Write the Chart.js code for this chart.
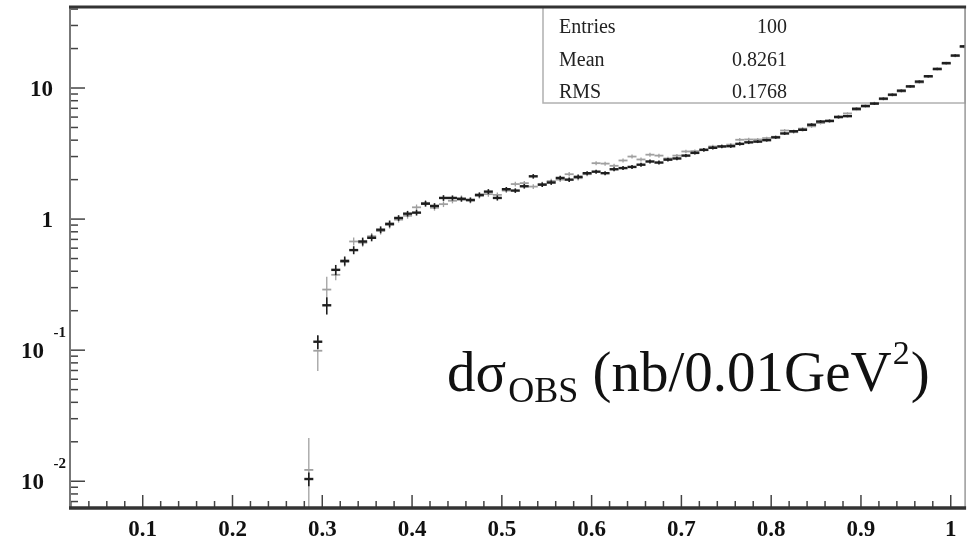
<!DOCTYPE html>
<html>
<head>
<meta charset="utf-8">
<script src="https://cdn.jsdelivr.net/npm/chart.js@4/dist/chart.umd.min.js"></script>
<style>
  body { margin: 0; background: #fff; }
  canvas { display: block; }
</style>
</head>
<body>
<canvas id="histo" width="972" height="546"></canvas>
<script>
// bin centres (0.01 GeV^2 bins)
const binCenters = [0.285, 0.295, 0.305, 0.315, 0.325, 0.335, 0.345, 0.355, 0.365, 0.375,
  0.385, 0.395, 0.405, 0.415, 0.425, 0.435, 0.445, 0.455, 0.465, 0.475,
  0.485, 0.495, 0.505, 0.515, 0.525, 0.535, 0.545, 0.555, 0.565, 0.575,
  0.585, 0.595, 0.605, 0.615, 0.625, 0.635, 0.645, 0.655, 0.665, 0.675,
  0.685, 0.695, 0.705, 0.715, 0.725, 0.735, 0.745, 0.755, 0.765, 0.775,
  0.785, 0.795, 0.805, 0.815, 0.825, 0.835, 0.845, 0.855, 0.865, 0.875,
  0.885, 0.895, 0.905, 0.915, 0.925, 0.935, 0.945, 0.955, 0.965, 0.975,
  0.985, 0.995, 1.005, 1.015];

const darkValues = [0.0104, 0.116, 0.22, 0.41, 0.48, 0.58, 0.675, 0.72, 0.83, 0.92,
  1.02, 1.10, 1.12, 1.31, 1.26, 1.45, 1.45, 1.42, 1.40, 1.53,
  1.62, 1.45, 1.69, 1.65, 1.78, 2.12, 1.83, 1.90, 2.06, 2.00,
  2.10, 2.24, 2.30, 2.24, 2.40, 2.45, 2.50, 2.60, 2.75, 2.70,
  2.84, 2.90, 3.05, 3.20, 3.38, 3.50, 3.58, 3.60, 3.75, 3.85,
  3.90, 4.00, 4.20, 4.50, 4.68, 4.80, 5.25, 5.55, 5.60, 6.00,
  6.10, 6.95, 7.30, 7.60, 8.30, 8.90, 9.55, 10.3, 11.2, 12.3,
  14.0, 15.5, 17.7, 20.8];

const lightValues = [0.0122, 0.099, 0.29, 0.376, 0.47, 0.675, 0.66, 0.74, 0.81, 0.90,
  0.99, 1.06, 1.23, 1.33, 1.22, 1.30, 1.38, 1.45, 1.38, 1.50,
  1.55, 1.53, 1.65, 1.85, 1.88, 1.77, 1.85, 1.95, 2.00, 2.20,
  2.05, 2.20, 2.67, 2.65, 2.55, 2.80, 3.00, 2.85, 3.10, 3.05,
  2.90, 3.05, 3.28, 3.30, 3.35, 3.58, 3.60, 3.70, 4.03, 4.05,
  4.05, 4.15, 4.25, 4.74, 4.60, 4.90, 5.10, 5.40, 5.66, 6.08,
  6.40, 6.80, 7.20, 7.70, 8.20, 8.80, 9.40, 10.2, 11.0, 12.2,
  13.8, 15.3, 17.5, 20.5];

// relative errors per bin
const darkRelErrors = [0.12, 0.12, 0.15, 0.09, 0.08, 0.07, 0.07, 0.06, 0.06, 0.06,
  0.05, 0.05, 0.05, 0.05, 0.05, 0.05, 0.045, 0.045, 0.045, 0.045,
  0.045, 0.045, 0.04, 0.04, 0.04, 0.04, 0.04, 0.04, 0.04, 0.04,
  0.04, 0.035, 0.035, 0.035, 0.035, 0.035, 0.035, 0.035, 0.035, 0.035,
  0.03, 0.03, 0.03, 0.03, 0.03, 0.03, 0.03, 0.03, 0.03, 0.03,
  0.025, 0.025, 0.025, 0.025, 0.025, 0.025, 0.025, 0.025, 0.025, 0.025,
  0.02, 0.02, 0.02, 0.02, 0.02, 0.02, 0.02, 0.02, 0.02, 0.02,
  0.02, 0.02, 0.02, 0.02];

const lightRelErrors = [0.75, 0.3, 0.25, 0.09, 0.08, 0.07, 0.07, 0.06, 0.06, 0.06,
  0.05, 0.05, 0.05, 0.05, 0.05, 0.05, 0.045, 0.045, 0.045, 0.045,
  0.045, 0.045, 0.04, 0.04, 0.04, 0.04, 0.04, 0.04, 0.04, 0.04,
  0.04, 0.035, 0.035, 0.035, 0.035, 0.035, 0.035, 0.035, 0.035, 0.035,
  0.03, 0.03, 0.03, 0.03, 0.03, 0.03, 0.03, 0.03, 0.03, 0.03,
  0.025, 0.025, 0.025, 0.025, 0.025, 0.025, 0.025, 0.025, 0.025, 0.025,
  0.02, 0.02, 0.02, 0.02, 0.02, 0.02, 0.02, 0.02, 0.02, 0.02,
  0.02, 0.02, 0.02, 0.02];

const xTickValues = [0.1, 0.2, 0.3, 0.4, 0.5, 0.6, 0.7, 0.8, 0.9, 1.0];
const xTickLabels = ['0.1', '0.2', '0.3', '0.4', '0.5', '0.6', '0.7', '0.8', '0.9', '1'];
const yTickValues = [0.01, 0.1, 1, 10];
const yTickBases = ['10', '10', '1', '10'];
const yTickExponents = ['-2', '-1', '', ''];

const statNames = ['Entries', 'Mean', 'RMS'];
const statValues = ['100', '0.8261', '0.1768'];

const serif = "'Liberation Serif', 'Times New Roman', serif";

const errorBars = {
  id: 'errorBars',
  afterDatasetDraw(chart, args) {
    const ds = chart.data.datasets[args.index];
    const meta = args.meta;
    const y = chart.scales.y;
    const area = chart.chartArea;
    const c = chart.ctx;
    c.save();
    c.beginPath();
    c.rect(area.left, area.top, area.right - area.left, area.bottom - area.top);
    c.clip();
    c.strokeStyle = ds.borderColor;
    c.lineWidth = ds.errWidth;
    meta.data.forEach((pt, i) => {
      const v = ds.data[i].y;
      const e = v * ds.relErrors[i];
      const top = y.getPixelForValue(v + e);
      const bot = v - e > 0 ? y.getPixelForValue(v - e) : area.bottom;
      c.beginPath();
      c.moveTo(pt.x, top);
      c.lineTo(pt.x, bot);
      c.stroke();
    });
    c.restore();
  }
};

const frame = {
  id: 'frame',
  beforeDatasetsDraw(chart) {
    const c = chart.ctx;
    const a = chart.chartArea;
    // stats box
    c.save();
    c.strokeStyle = '#b0b0b0';
    c.lineWidth = 1.5;
    c.strokeRect(543, a.top, a.right - 543, 103 - a.top);
    c.fillStyle = '#222';
    c.font = '20px ' + serif;
    c.textBaseline = 'alphabetic';
    statNames.forEach((n, i) => {
      c.textAlign = 'left';
      c.fillText(n, 559, 33 + i * 32.5);
      c.textAlign = 'right';
      c.fillText(statValues[i], 787, 33 + i * 32.5);
    });
    c.restore();
  },
  afterDraw(chart) {
    const c = chart.ctx;
    const a = chart.chartArea;
    const x = chart.scales.x;
    const y = chart.scales.y;
    c.save();
    c.lineCap = 'butt';

    // y ticks (inward)
    c.strokeStyle = '#444';
    c.lineWidth = 1.5;
    for (let d = -3; d <= 1; d++) {
      for (let m = 1; m <= 9; m++) {
        const v = m * Math.pow(10, d);
        if (v < y.min || v > y.max) continue;
        const py = y.getPixelForValue(v);
        const len = m === 1 ? 15 : 8;
        c.beginPath();
        c.moveTo(a.left, py);
        c.lineTo(a.left + len, py);
        c.stroke();
      }
    }
    // x ticks (inward)
    for (let k = 1; k <= 51; k++) {
      const v = k * 0.02;
      if (v < x.min || v > x.max) continue;
      const px = x.getPixelForValue(v);
      const len = k % 5 === 0 ? 13 : 7;
      c.beginPath();
      c.moveTo(px, a.bottom);
      c.lineTo(px, a.bottom - len);
      c.stroke();
    }

    // frame lines
    c.strokeStyle = '#777';
    c.lineWidth = 2;
    c.beginPath();
    c.moveTo(a.left, a.top);
    c.lineTo(a.left, a.bottom);
    c.stroke();
    c.strokeStyle = '#999';
    c.lineWidth = 1.5;
    c.beginPath();
    c.moveTo(a.right, a.top);
    c.lineTo(a.right, a.bottom);
    c.stroke();
    c.strokeStyle = '#333';
    c.lineWidth = 3;
    c.beginPath();
    c.moveTo(a.left - 1, a.top);
    c.lineTo(a.right + 1, a.top);
    c.stroke();
    c.lineWidth = 3.5;
    c.beginPath();
    c.moveTo(a.left - 1, a.bottom);
    c.lineTo(a.right + 1, a.bottom);
    c.stroke();

    // tick labels
    c.fillStyle = '#111';
    c.font = 'bold 23px ' + serif;
    c.textAlign = 'center';
    c.textBaseline = 'middle';
    xTickValues.forEach((v, i) => {
      c.fillText(xTickLabels[i], x.getPixelForValue(v), 530);
    });
    yTickValues.forEach((v, i) => {
      const py = y.getPixelForValue(v);
      const exp = yTickExponents[i];
      c.font = 'bold 23px ' + serif;
      c.textAlign = 'right';
      c.fillText(yTickBases[i], exp ? 44 : 53, py + 2);
      if (exp) {
        c.font = 'bold 15px ' + serif;
        c.fillText(exp, 66, py - 17);
      }
    });

    // big annotation
    c.fillStyle = '#111';
    c.textAlign = 'left';
    c.textBaseline = 'alphabetic';
    let px = 447;
    const base = 391;
    c.font = '57px ' + serif;
    c.fillText('d\u03c3', px, base);
    px += c.measureText('d\u03c3').width + 2;
    c.font = '36px ' + serif;
    c.fillText('OBS', px, base + 11);
    px += c.measureText('OBS').width;
    c.font = '57px ' + serif;
    c.fillText(' (nb/0.01GeV', px, base);
    px += c.measureText(' (nb/0.01GeV').width + 1;
    c.font = '34px ' + serif;
    c.fillText('2', px, base - 27);
    px += c.measureText('2').width + 1;
    c.font = '57px ' + serif;
    c.fillText(')', px, base);
    c.restore();
  }
};

const ctx = document.getElementById('histo');
new Chart(ctx, {
  type: 'scatter',
  data: {
    datasets: [{
      label: 'dark',
      data: binCenters.map((b, i) => ({ x: b, y: darkValues[i] })),
      relErrors: darkRelErrors,
      pointStyle: 'line',
      pointRadius: 4.5,
      pointHoverRadius: 4.5,
      borderColor: '#1e1e1e',
      backgroundColor: '#1e1e1e',
      borderWidth: 2.4,
      errWidth: 1.6
    }, {
      label: 'light',
      data: binCenters.map((b, i) => ({ x: b, y: lightValues[i] })),
      relErrors: lightRelErrors,
      pointStyle: 'line',
      pointRadius: 4.5,
      pointHoverRadius: 4.5,
      borderColor: '#a0a0a0',
      backgroundColor: '#a0a0a0',
      borderWidth: 1.8,
      errWidth: 1.3
    }]
  },
  options: {
    responsive: false,
    animation: false,
    events: [],
    layout: { padding: { left: 70, top: 7, right: 5, bottom: 38 } },
    scales: {
      x: { type: 'linear', min: 0.019, max: 1.016, display: false },
      y: { type: 'logarithmic', min: 0.00625, max: 41.5, display: false }
    },
    plugins: {
      legend: { display: false },
      tooltip: { enabled: false }
    }
  },
  plugins: [errorBars, frame]
});
</script>
</body>
</html>
